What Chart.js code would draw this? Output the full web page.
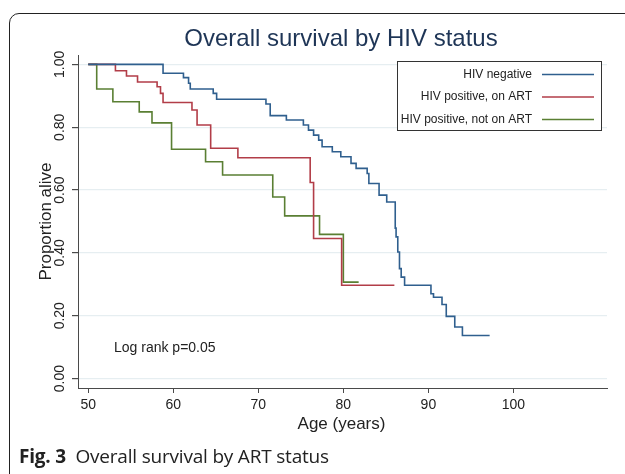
<!DOCTYPE html>
<html>
<head>
<meta charset="utf-8">
<script src="https://cdn.jsdelivr.net/npm/chart.js@4"></script>
<style>
    html, body { margin: 0; padding: 0; background: #fff; }
    body { width: 625px; height: 474px; position: relative; overflow: hidden; font-family: "Liberation Sans", Arial, sans-serif; }
    .frame { position: absolute; left: 9px; top: 13px; width: 640px; height: 480px; border: 1.5px solid #222; border-radius: 10px; box-sizing: border-box; }
    #chartWrap { position: absolute; left: 0; top: 0; width: 625px; height: 474px; }
    .caption { position: absolute; left: 19px; top: 443px; font-family: "Open Sans", "Noto Sans", sans-serif; font-size: 19px; color: #222; white-space: nowrap; letter-spacing: -0.2px; }
    .caption b { font-weight: 700; }
</style>
</head>
<body>
<div class="frame"></div>
<div id="chartWrap"><canvas id="survivalChart" width="625" height="474"></canvas></div>
<div class="caption"><b>Fig. 3</b>&nbsp; Overall survival by ART status</div>
<script>
// Kaplan-Meier step points: [age, proportion alive]
const negativeAges = [50, 58.8, 61.2, 61.8, 62.0, 64.7, 65.1, 70.9, 71.4, 73.3, 75.3, 75.9, 76.5, 77.1, 77.5, 78.7, 79.7, 80.9, 81.5, 82.8, 83.0, 84.2, 85.1, 86.1, 86.2, 86.4, 86.6, 86.8, 87.2, 90.3, 90.6, 91.6, 92.1, 93.1, 94.0, 97.2];
const negativeSurv = [1.00, 0.972, 0.958, 0.940, 0.922, 0.908, 0.889, 0.874, 0.837, 0.823, 0.807, 0.791, 0.775, 0.759, 0.738, 0.722, 0.706, 0.685, 0.669, 0.653, 0.621, 0.584, 0.562, 0.479, 0.451, 0.403, 0.350, 0.323, 0.297, 0.270, 0.259, 0.236, 0.198, 0.164, 0.137, 0.137];

const onArtAges = [50, 53.2, 54.5, 55.8, 58.1, 58.5, 58.8, 62.2, 62.8, 64.4, 67.6, 76.1, 76.5, 79.8, 86.0];
const onArtSurv = [1.00, 0.980, 0.963, 0.944, 0.929, 0.908, 0.879, 0.855, 0.807, 0.733, 0.703, 0.624, 0.446, 0.297, 0.297];

const notOnArtAges = [50, 51.0, 52.9, 56.0, 57.5, 59.8, 63.8, 65.8, 71.7, 73.1, 77.2, 80.0, 81.8];
const notOnArtSurv = [1.00, 0.922, 0.881, 0.849, 0.814, 0.730, 0.690, 0.648, 0.578, 0.518, 0.459, 0.307, 0.307];

const seriesLabels = ['HIV negative', 'HIV positive, on ART', 'HIV positive, not on ART'];
const seriesColors = ['#2f5f8e', '#b23d48', '#5a7f33'];

const xTicks = [50, 60, 70, 80, 90, 100];
const yTicks = [0, 0.2, 0.4, 0.6, 0.8, 1.0];

const chartTitle = 'Overall survival by HIV status';
const xTitle = 'Age (years)';
const yTitle = 'Proportion alive';
const noteText = 'Log rank p=0.05';

const toPoints = (ages, surv) => ages.map((age, i) => ({ x: age, y: surv[i] }));

const FONT = '"Liberation Sans", Arial, sans-serif';
const AXIS_COLOR = '#4a4a4a';

const textPlugin = {
    id: 'stataText',
    afterDraw(chart) {
        const ctx = chart.ctx;
        const xs = chart.scales.x;
        const ys = chart.scales.y;
        const area = chart.chartArea;

        ctx.save();

        // title
        ctx.font = `24px ${FONT}`;
        ctx.fillStyle = '#1e3556';
        ctx.textAlign = 'center';
        ctx.textBaseline = 'middle';
        ctx.fillText(chartTitle, 341, 39);

        // x tick labels
        ctx.fillStyle = '#222';
        ctx.font = `14px ${FONT}`;
        xTicks.forEach((v) => {
            ctx.fillText(String(v), xs.getPixelForValue(v), 405);
        });

        // y tick labels (rotated)
        yTicks.forEach((v) => {
            ctx.save();
            ctx.translate(60, ys.getPixelForValue(v));
            ctx.rotate(-Math.PI / 2);
            ctx.fillText(v.toFixed(2), 0, 0);
            ctx.restore();
        });

        // axis titles
        ctx.font = `17px ${FONT}`;
        ctx.fillText(xTitle, (area.left + area.right) / 2 - 1, 424);
        ctx.save();
        ctx.translate(46, (area.top + area.bottom) / 2);
        ctx.rotate(-Math.PI / 2);
        ctx.fillText(yTitle, 0, 0);
        ctx.restore();

        // note
        ctx.font = `14px ${FONT}`;
        ctx.textAlign = 'left';
        ctx.fillText(noteText, 114, 348);

        // legend box
        const box = { left: 397, top: 61, right: 601, bottom: 130 };
        ctx.fillStyle = '#fff';
        ctx.fillRect(box.left, box.top, box.right - box.left, box.bottom - box.top);
        ctx.strokeStyle = '#333';
        ctx.lineWidth = 1;
        ctx.strokeRect(box.left + 0.5, box.top + 0.5, box.right - box.left, box.bottom - box.top);

        ctx.font = `12px ${FONT}`;
        ctx.textAlign = 'right';
        ctx.fillStyle = '#222';
        const rowY = [74.5, 97, 119.5];
        chart.data.datasets.forEach((ds, i) => {
            ctx.fillText(ds.label, 532, rowY[i]);
            ctx.strokeStyle = ds.borderColor;
            ctx.lineWidth = 1.5;
            ctx.beginPath();
            ctx.moveTo(542, rowY[i]);
            ctx.lineTo(594, rowY[i]);
            ctx.stroke();
        });

        ctx.restore();
    }
};

document.addEventListener('DOMContentLoaded', () => {
    const canvas = document.getElementById('survivalChart');

    const makeDataset = (label, ages, surv, color) => ({
        label,
        data: toPoints(ages, surv),
        borderColor: color,
        backgroundColor: color,
        borderWidth: 1.6,
        pointRadius: 0,
        stepped: 'before',
        fill: false
    });

    new Chart(canvas, {
        type: 'line',
        data: {
            datasets: [
                makeDataset(seriesLabels[0], negativeAges, negativeSurv, seriesColors[0]),
                makeDataset(seriesLabels[1], onArtAges, onArtSurv, seriesColors[1]),
                makeDataset(seriesLabels[2], notOnArtAges, notOnArtSurv, seriesColors[2])
            ]
        },
        options: {
            responsive: false,
            animation: false,
            layout: {
                padding: { left: 72, top: 55, right: 18, bottom: 81 }
            },
            plugins: {
                legend: { display: false },
                title: { display: false },
                tooltip: { enabled: false }
            },
            scales: {
                x: {
                    type: 'linear',
                    min: 48.8,
                    max: 111,
                    afterBuildTicks: (scale) => {
                        scale.ticks = xTicks.map((v) => ({ value: v }));
                    },
                    ticks: { display: false },
                    grid: {
                        drawOnChartArea: false,
                        drawTicks: true,
                        tickLength: 5,
                        tickColor: AXIS_COLOR
                    },
                    border: { display: true, color: AXIS_COLOR, width: 1 }
                },
                y: {
                    type: 'linear',
                    min: -0.03,
                    max: 1.03,
                    afterBuildTicks: (scale) => {
                        scale.ticks = yTicks.map((v) => ({ value: v }));
                    },
                    ticks: { display: false },
                    grid: {
                        color: '#e6eef1',
                        lineWidth: 1.2,
                        drawTicks: true,
                        tickLength: 6,
                        tickColor: AXIS_COLOR
                    },
                    border: { display: true, color: AXIS_COLOR, width: 1 }
                }
            }
        },
        plugins: [textPlugin]
    });
});
</script>
</body>
</html>
